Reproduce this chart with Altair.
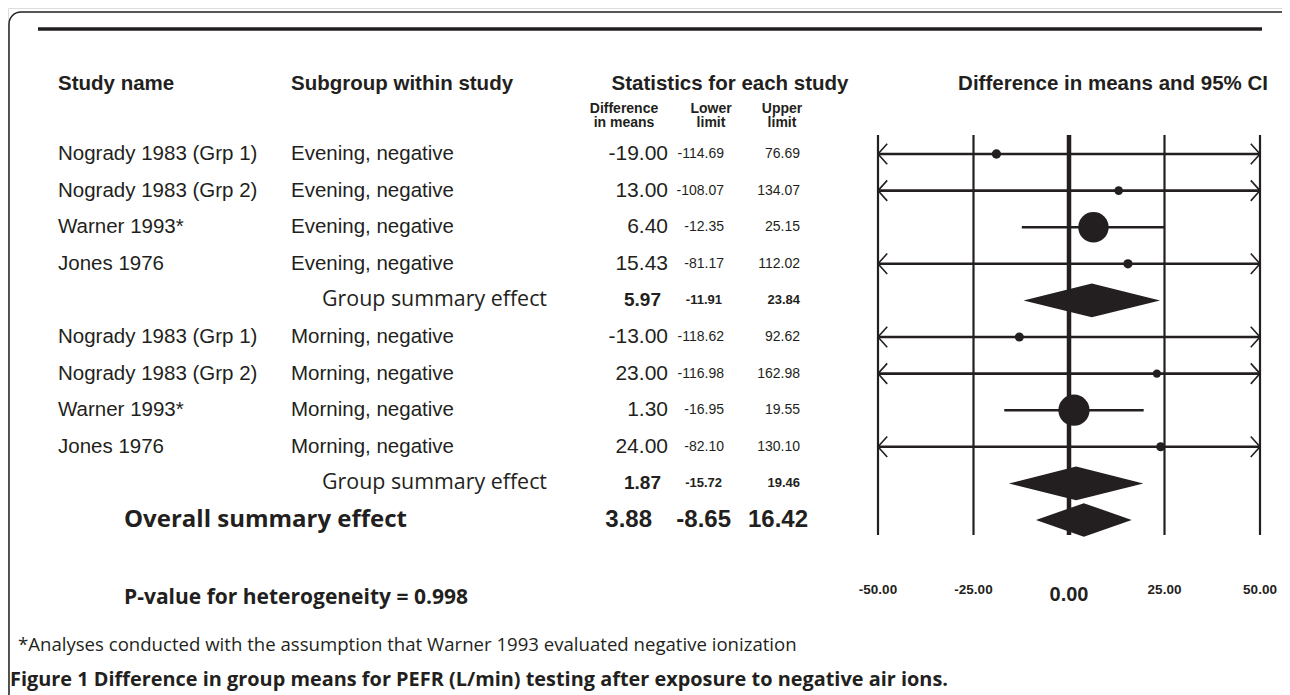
import altair as alt
import pandas as pd

# ---------------- data ----------------
study_names = ["Nogrady 1983 (Grp 1)", "Nogrady 1983 (Grp 2)", "Warner 1993*", "Jones 1976",
               "Nogrady 1983 (Grp 1)", "Nogrady 1983 (Grp 2)", "Warner 1993*", "Jones 1976"]
subgroups = ["Evening, negative"] * 4 + ["Morning, negative"] * 4
study_diff = [-19.00, 13.00, 6.40, 15.43, -13.00, 23.00, 1.30, 24.00]
study_lower = [-114.69, -108.07, -12.35, -81.17, -118.62, -116.98, -16.95, -82.10]
study_upper = [76.69, 134.07, 25.15, 112.02, 92.62, 162.98, 19.55, 130.10]
study_rows = [1, 2, 3, 4, 6, 7, 8, 9]

summary_labels = ["Group summary effect", "Group summary effect", "Overall summary effect"]
summary_kind = ["group", "group", "overall"]
summary_diff = [5.97, 1.87, 3.88]
summary_lower = [-11.91, -15.72, -8.65]
summary_upper = [23.84, 19.46, 16.42]
summary_rows = [5, 10, 11]

axis_ticks = [-50, -25, 0, 25, 50]
p_heterogeneity = "0.998"

footnote = "*Analyses conducted with the assumption that Warner 1993 evaluated negative ionization"
caption = "Figure 1 Difference in group means for PEFR (L/min) testing after exposure to negative air ions."

# ---------------- tables ----------------
XMIN, XMAX = axis_ticks[0], axis_ticks[-1]


def f2(v):
    return f"{v:.2f}"


st = pd.DataFrame({"study": study_names, "subgroup": subgroups, "diff": study_diff,
                   "lower": study_lower, "upper": study_upper, "row": study_rows})
se = (st["upper"] - st["lower"]) / 3.92
st["weight"] = 1.0 / se ** 2
st["lo_c"] = st["lower"].clip(lower=XMIN)
st["hi_c"] = st["upper"].clip(upper=XMAX)
for c in ["diff", "lower", "upper"]:
    st[c + "_s"] = st[c].map(f2)
left_arrows = st[st["lower"] < XMIN]
right_arrows = st[st["upper"] > XMAX]

sm = pd.DataFrame({"label": summary_labels, "kind": summary_kind, "diff": summary_diff,
                   "lower": summary_lower, "upper": summary_upper, "row": summary_rows})
for c in ["diff", "lower", "upper"]:
    sm[c + "_s"] = sm[c].map(f2)
HALF = 0.46
dia = []
for i, r in sm.iterrows():
    dia.append({"id": i, "x": r["lower"], "yt": r["row"], "yb": r["row"]})
    dia.append({"id": i, "x": r["diff"], "yt": r["row"] - HALF, "yb": r["row"] + HALF})
    dia.append({"id": i, "x": r["upper"], "yt": r["row"], "yb": r["row"]})
dia = pd.DataFrame(dia)

ticks = pd.DataFrame({"t": axis_ticks})
ticks["lab"] = ticks["t"].map(f2)

# ---------------- style ----------------
TXT = "#231f20"
SANS = "Liberation Sans"
HUM = "Open Sans"
W, H = 1274, 687

xscale = alt.Scale(domain=[XMIN, XMAX], range=[870, 1252], nice=False, zero=False)
yscale = alt.Scale(domain=[1, 11], range=[146, 512], nice=False, zero=False)


def X(f):
    return alt.X(f, type="quantitative", scale=xscale, axis=None)


def Y(f):
    return alt.Y(f, type="quantitative", scale=yscale, axis=None)


dummy = alt.Data(values=[{"a": 1}])


def label(text, x, y, size, weight="normal", align="left", font=SANS):
    return alt.Chart(dummy).mark_text(
        text=text, align=align, baseline="middle", font=font, fontSize=size,
        fontWeight=weight, color=TXT
    ).encode(x=alt.value(x), y=alt.value(y))


layers = []

# frame and top rule
layers.append(alt.Chart(dummy).mark_rect(fillOpacity=0, stroke=TXT, strokeWidth=1.5, cornerRadius=12)
              .encode(x=alt.value(1), x2=alt.value(1290), y=alt.value(4), y2=alt.value(820)))
layers.append(alt.Chart(dummy).mark_rule(strokeWidth=3.5, color=TXT)
              .encode(x=alt.value(30), x2=alt.value(1254), y=alt.value(21)))

# headers
HS = 20.5
layers.append(label("Study name", 50, 76, HS, "bold"))
layers.append(label("Subgroup within study", 283, 76, HS, "bold"))
layers.append(label("Statistics for each study", 722, 76, HS, "bold", "center"))
layers.append(label("Difference in means and 95% CI", 1260, 76, HS, "bold", "right"))
SH = 14
layers.append(label("Difference", 616, 101, SH, "bold", "center"))
layers.append(label("in means", 616, 115, SH, "bold", "center"))
layers.append(label("Lower", 703, 101, SH, "bold", "center"))
layers.append(label("limit", 703, 115, SH, "bold", "center"))
layers.append(label("Upper", 774, 101, SH, "bold", "center"))
layers.append(label("limit", 774, 115, SH, "bold", "center"))

# grid lines of the forest plot
layers.append(alt.Chart(ticks).mark_rule(strokeWidth=2.2, color=TXT)
              .encode(x=X("t"), y=alt.value(127), y2=alt.value(527)))
layers.append(alt.Chart(ticks).transform_filter("datum.t == 0").mark_rule(strokeWidth=4.5, color=TXT)
              .encode(x=X("t"), y=alt.value(127), y2=alt.value(527)))

# confidence intervals
layers.append(alt.Chart(st).mark_rule(strokeWidth=2.6, color=TXT)
              .encode(x=X("lo_c"), x2="hi_c", y=Y("row")))
layers.append(alt.Chart(left_arrows).mark_point(shape="M 0.9 -1 L 0 0 L 0.9 1", filled=False, size=420,
                                                strokeWidth=1.6, color=TXT, opacity=1)
              .encode(x=X("lo_c"), y=Y("row")))
layers.append(alt.Chart(right_arrows).mark_point(shape="M -0.9 -1 L 0 0 L -0.9 1", filled=False, size=420,
                                                 strokeWidth=1.6, color=TXT, opacity=1)
              .encode(x=X("hi_c"), y=Y("row")))
layers.append(alt.Chart(st).mark_circle(color=TXT, opacity=1)
              .encode(x=X("diff"), y=Y("row"),
                      size=alt.Size("weight", type="quantitative", legend=None,
                                    scale=alt.Scale(domain=[0.0002, 0.0116], range=[70, 980]))))

# diamonds
layers.append(alt.Chart(dia).mark_area(color=TXT, opacity=1, orient="vertical")
              .encode(x=X("x"), y=Y("yt"), y2="yb", detail="id:N"))


# table texts
def col_text(df, field, x, size, weight="normal", align="left", font=SANS):
    return alt.Chart(df).mark_text(align=align, baseline="middle", font=font, fontSize=size,
                                   fontWeight=weight, color=TXT).encode(
        x=alt.value(x), y=Y("row"), text=alt.Text(field, type="nominal"))


layers.append(col_text(st, "study", 50, 20.5))
layers.append(col_text(st, "subgroup", 283, 20.5))
layers.append(col_text(st, "diff_s", 660, 21, align="right"))
layers.append(col_text(st, "lower_s", 716, 14, align="right"))
layers.append(col_text(st, "upper_s", 792, 14, align="right"))

grp = sm[sm["kind"] == "group"]
ovr = sm[sm["kind"] == "overall"]
layers.append(col_text(grp, "label", 539, 21.4, align="right", font=HUM))
layers.append(col_text(grp, "diff_s", 653, 19, "bold", "right"))
layers.append(col_text(grp, "lower_s", 714, 13, "bold", "right"))
layers.append(col_text(grp, "upper_s", 792, 13, "bold", "right"))

layers.append(col_text(ovr, "label", 116, 24, "bold", "left", font=HUM))
layers.append(col_text(ovr, "diff_s", 644, 24, "bold", "right"))
layers.append(col_text(ovr, "lower_s", 723, 24, "bold", "right"))
layers.append(col_text(ovr, "upper_s", 800, 24, "bold", "right"))

# axis tick labels
layers.append(alt.Chart(ticks).transform_filter("datum.t != 0")
              .mark_text(baseline="middle", font=SANS, fontSize=13.5, fontWeight="bold", color=TXT)
              .encode(x=X("t"), y=alt.value(582), text="lab:N"))
layers.append(alt.Chart(ticks).transform_filter("datum.t == 0")
              .mark_text(baseline="middle", font=SANS, fontSize=20, fontWeight="bold", color=TXT)
              .encode(x=X("t"), y=alt.value(587), text="lab:N"))

# bottom texts
layers.append(label("P-value for heterogeneity = " + p_heterogeneity, 116, 590, 21, "bold", font=HUM))
layers.append(label(footnote, 10, 637, 18.6, font=HUM))
layers.append(label(caption, 2, 672, 19.9, "bold", font=HUM))

chart = alt.layer(*layers).properties(
    width=W, height=H, autosize=alt.AutoSizeParams(type="none"), padding=0
).configure_view(stroke=None).configure(background="white")

chart.save("out.html", embed_options={"renderer": "svg", "actions": False})
